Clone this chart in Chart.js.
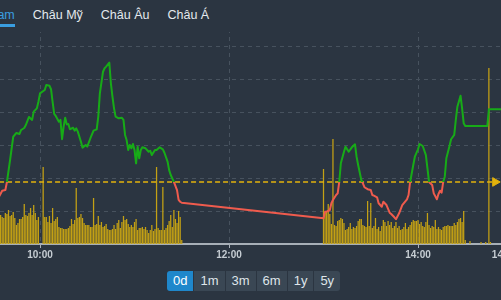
<!DOCTYPE html>
<html>
<head>
<meta charset="utf-8">
<script src="https://cdn.jsdelivr.net/npm/chart.js@4"></script>
<style>
html,body{margin:0;padding:0;width:501px;height:300px;overflow:hidden;background:#2b3541;font-family:"Liberation Sans",Arial,sans-serif;}
#wrap{position:relative;width:501px;height:300px;overflow:hidden;background:#2b3541;}
#cv{position:absolute;left:0;top:0;}
#tabbar{position:absolute;left:0;top:0;width:501px;height:32px;background:#2b3541;z-index:2;}
#tabs{position:absolute;left:-36.4px;top:8px;display:flex;gap:18px;}
.tab{font-size:12.5px;line-height:15px;color:#e4e9ee;white-space:nowrap;padding-bottom:1px;}
.tab.active{color:#3a9ee0;border-bottom:3px solid #3a9ee0;}
#ranges{position:absolute;left:167px;top:271px;height:20px;display:flex;border-radius:3px;overflow:hidden;z-index:2;}
.rb{height:20px;line-height:20px;font-size:13px;color:#dfe5ea;background:#3a4754;padding:0 6px;border-left:1px solid #2b3541;}
.rb:first-child{border-left:none;}
.rb.on{background:#1f87cb;color:#ffffff;}
</style>
</head>
<body>
<div id="wrap">
  <canvas id="cv" width="580" height="300" style="width:580px;height:300px"></canvas>
  <div id="tabbar"><div id="tabs"></div></div>
  <div id="ranges"></div>
</div>
<script>
// ---- data ----
const tabLabels = ["Việt Nam", "Châu Mỹ", "Châu Âu", "Châu Á"];
const rangeLabels = ["0d", "1m", "3m", "6m", "1y", "5y"];
const prevClose = 1177.76;
const refLineEnd = "14:49";
const xTickTimes = ["10:00", "12:00", "14:00", "14:55"];

const priceTimes = ["09:34","09:36","09:38","09:39","09:41","09:43","09:45","09:47","09:48","09:50","09:51","09:53","09:55","09:56","09:58","09:59",
"10:00","10:03","10:04","10:06","10:07","10:08","10:09","10:10","10:12","10:13","10:14","10:15","10:16","10:17","10:18","10:19","10:21","10:22","10:23","10:24","10:26","10:27","10:29","10:30","10:32","10:34","10:36","10:37","10:38","10:40","10:41","10:42","10:44","10:45","10:46","10:47","10:48","10:50","10:52","10:53","10:54","10:55","10:56","10:57","10:58","10:59",
"11:00","11:01","11:02","11:03","11:04","11:05","11:07","11:09","11:10","11:11","11:13","11:14","11:16","11:18","11:19","11:21","11:22","11:23","11:25","11:27","11:28","11:29","11:30",
"13:00","13:01","13:02","13:04","13:05","13:06","13:08","13:09","13:10","13:11","13:13","13:14","13:16","13:18","13:20","13:21","13:22","13:24","13:25","13:26","13:28","13:30","13:31","13:32","13:34","13:35","13:37","13:38","13:40","13:42","13:43","13:45","13:46","13:48","13:50","13:53","13:54","13:55","13:57","13:58",
"14:00","14:01","14:03","14:05","14:06","14:07","14:09","14:10","14:12","14:13","14:14","14:15","14:16","14:17","14:18","14:20","14:21","14:23","14:24","14:25","14:27","14:28","14:29","14:30","14:44","14:45","14:55"];
const priceValues = [1176.87,1177.23,1177.27,1177.76,1179.09,1180.50,1180.73,1180.67,1180.91,1181.03,1181.21,1181.70,1181.52,1182.02,1182.22,1182.62,
1183.13,1183.33,1183.64,1183.59,1183.38,1182.62,1181.88,1181.76,1181.41,1181.52,1180.35,1181.11,1181.65,1181.25,1181.27,1180.95,1181.05,1180.87,1181.01,1180.81,1180.20,1179.84,1180.00,1179.90,1180.41,1180.87,1180.95,1181.72,1183.13,1184.44,1184.65,1184.75,1184.99,1183.74,1182.93,1182.22,1181.72,1181.62,1181.65,1181.52,1180.61,1180.30,1179.70,1180.00,1179.80,1180.06,
1179.70,1178.89,1179.90,1179.19,1179.70,1179.86,1179.80,1179.59,1179.65,1179.39,1179.70,1179.70,1179.86,1179.74,1179.53,1178.99,1178.48,1178.18,1177.76,1177.27,1176.67,1176.56,1176.50,
1175.56,1175.96,1175.96,1176.06,1176.47,1176.67,1176.97,1177.07,1177.76,1178.89,1179.59,1179.90,1179.59,1179.86,1180.04,1179.29,1178.79,1177.88,1177.68,1177.44,1177.32,1177.27,1176.97,1176.93,1176.83,1176.47,1176.26,1176.56,1176.36,1175.90,1175.82,1175.62,1175.50,1175.86,1176.36,1176.71,1176.97,1177.76,1178.79,1179.29,
1179.74,1180.06,1179.94,1179.39,1178.59,1177.76,1177.58,1177.07,1176.71,1177.03,1177.23,1177.11,1177.76,1178.08,1179.19,1179.94,1180.35,1180.61,1181.52,1182.32,1182.99,1182.22,1181.32,1181.15,1181.15,1182.16,1182.16];

const morningVolStart = "09:34";
const morningVol = [29,29,27,26,31,30,34,28,29,32,26,19,21,25,25,27,40,29,28,31,36,29,39,31,24,27,0,0,77,27,27,22,28,21,36,23,25,27,17,16,16,15,15,15,16,18,25,20,24,56,26,27,30,26,21,19,19,19,17,17,46,19,20,28,19,22,17,18,20,15,14,14,15,19,15,21,24,16,22,28,24,25,20,17,19,17,22,25,14,16,16,17,15,17,14,11,14,19,13,15,77,16,14,14,57,14,16,19,23,29,17,34,25,21,33,27,4];
const afternoonVolStart = "13:00";
const afternoonVol = [75,31,32,40,30,20,105,19,18,23,24,26,25,21,14,15,17,21,15,17,16,18,23,25,25,19,18,17,43,18,41,16,18,26,15,17,13,18,24,22,18,23,19,22,16,18,22,16,18,14,15,17,21,15,17,19,22,24,23,23,24,20,22,18,17,22,31,19,16,18,17,24,15,17,15,14,17,18,18,19,18,18,18,21,19,22,25,26,22,33,4];
const lateVolTimes = ["14:33","14:40","14:43","14:45","14:46"];
const lateVol = [3,2,2,176,2];

// ---- helpers ----
const toMin = s => { const p = s.split(":").map(Number); return p[0]*60 + p[1]; };
const fmt = v => { const h = Math.floor(v/60), m = Math.round(v - h*60); return String(h).padStart(2,"0") + ":" + String(m).padStart(2,"0"); };

const tabsEl = document.getElementById("tabs");
tabLabels.forEach((t,i) => { const d = document.createElement("div"); d.className = "tab" + (i===0?" active":""); d.textContent = t; tabsEl.appendChild(d); });
const rEl = document.getElementById("ranges");
rangeLabels.forEach((t,i) => { const d = document.createElement("div"); d.className = "rb" + (i===0?" on":""); d.textContent = t; rEl.appendChild(d); });

const upColor = "#17ab17";
const downColor = "#ef5b4d";
const volColor = "#c4a114";
const refColor = "#e3b30c";
const gridCol = "#47525e";

function splitColor(context) {
  const chart = context.chart;
  const area = chart.chartArea;
  if (!area) return upColor;
  const yRef = chart.scales.y.getPixelForValue(prevClose);
  const f = Math.min(1, Math.max(0, (yRef - area.top) / (area.bottom - area.top)));
  const g = chart.ctx.createLinearGradient(0, area.top, 0, area.bottom);
  g.addColorStop(0, upColor); g.addColorStop(f, upColor);
  g.addColorStop(f, downColor); g.addColorStop(1, downColor);
  return g;
}

const pricePts = priceTimes.map((t,i) => ({x: toMin(t), y: priceValues[i]}));
const volPts = [];
morningVol.forEach((v,i) => volPts.push({x: toMin(morningVolStart) + i, y: v}));
afternoonVol.forEach((v,i) => volPts.push({x: toMin(afternoonVolStart) + i, y: v}));
lateVolTimes.forEach((t,i) => volPts.push({x: toMin(t), y: lateVol[i]}));

const xMin = toMin("09:34") + 0.6;   // left edge of the visible plot
const pxPerMin = 1.575;              // horizontal zoom of the time axis

const cv = document.getElementById("cv");
const chart = new Chart(cv, {
  type: "bar",
  data: {
    datasets: [
      { type: "line", label: "Chỉ số", data: pricePts, yAxisID: "y", xAxisID: "x",
        borderColor: splitColor, borderWidth: 2, pointRadius: 0, tension: 0, order: 0, borderJoinStyle: "round" },
      { type: "line", label: "Tham chiếu", yAxisID: "y", xAxisID: "x",
        data: [{x: toMin(priceTimes[0]), y: prevClose}, {x: toMin(refLineEnd), y: prevClose}],
        borderColor: refColor, borderWidth: 1.5, borderDash: [5,3],
        pointRadius: [0,5], pointStyle: "triangle", rotation: 90,
        pointBackgroundColor: refColor, pointBorderColor: refColor, pointBorderWidth: 1, order: 1 },
      { type: "bar", label: "Khối lượng", data: volPts, yAxisID: "yv", xAxisID: "x",
        backgroundColor: volColor, barPercentage: 0.8, categoryPercentage: 1, order: 2 }
    ]
  },
  options: {
    responsive: false,
    animation: false,
    events: [],
    layout: { padding: { top: 13, bottom: 30, left: 0, right: 60 } },
    plugins: { legend: { display: false }, tooltip: { enabled: false } },
    scales: {
      x: {
        type: "linear",
        offset: false,
        min: xMin,
        max: xMin + 330,
        afterBuildTicks: s => { s.ticks = xTickTimes.map(t => ({value: toMin(t)})); },
        afterFit: s => { s.height = 26; },
        grid: { color: gridCol, lineWidth: 1, offset: false, drawTicks: true, tickLength: 4, tickColor: "#aab2ba", tickWidth: 1 },
        border: { display: true, color: "#a7afb7", width: 2, dash: [4,4] },
        ticks: { color: "#c6cdd3", font: { family: "Liberation Sans", size: 10, weight: "bold" }, padding: 1, maxRotation: 0, autoSkip: false,
                 callback: v => fmt(v) }
      },
      y: {
        type: "linear", position: "right", min: 1174, max: 1188,
        ticks: { display: false, stepSize: 2 },
        grid: { color: gridCol, lineWidth: 1, drawTicks: false },
        border: { display: false, dash: [4,4] }
      },
      yv: {
        type: "linear", display: false, min: 0, max: 231,
        grid: { display: false }
      }
    }
  }
});
// fit the time scale to the measured plot width, then slide the canvas so the plot starts at the window's left edge
const area0 = chart.chartArea;
chart.options.scales.x.max = xMin + (area0.right - area0.left) / pxPerMin;
chart.update();
cv.style.left = (-chart.chartArea.left) + "px";
</script>
</body>
</html>
